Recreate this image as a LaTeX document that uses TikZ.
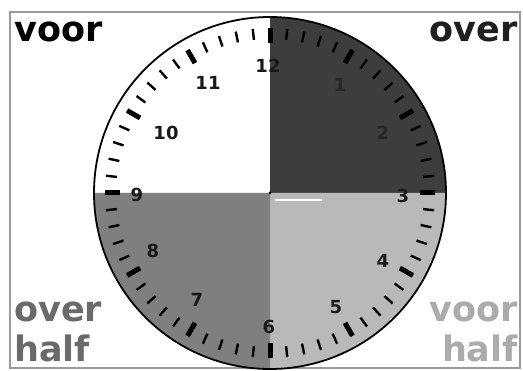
\documentclass[tikz,border=0pt]{standalone}
\usepackage{fontspec}
\setmainfont{DejaVu Sans}
\definecolor{qdark}{HTML}{3D3D3D}
\definecolor{qmid}{HTML}{7F7F7F}
\definecolor{qlight}{HTML}{B9B9B9}
\definecolor{framegray}{HTML}{9A9A9A}
\definecolor{lblmid}{HTML}{6A6A6A}
\definecolor{lbllight}{HTML}{ABABAB}
\tikzset{
  frameline/.style={draw=framegray,line width=2},
  minortick/.style={line width=2.4,black},
  hourtick/.style={line width=5,black},
  num/.style={font=\bfseries\fontsize{18}{18}\selectfont,inner sep=0pt,text=black!90},
  lbl/.style={font=\bfseries\fontsize{35}{35}\selectfont,inner sep=0pt},
}
\begin{document}
\begin{tikzpicture}[x=1pt,y=-1pt]
\useasboundingbox (0,0) rectangle (523,371);
\fill[white] (0,0) rectangle (523,371);
\draw[frameline] (10,12) rectangle (520,368);
\coordinate (c) at (270,193);
% quadrants
\fill[white]  (c) -- ++(180:176) arc[start angle=180,end angle=270,radius=176] -- cycle;
\fill[qdark]  (c) -- ++(270:176) arc[start angle=270,end angle=360,radius=176] -- cycle;
\fill[qlight] (c) -- ++(0:176) arc[start angle=0,end angle=90,radius=176] -- cycle;
\fill[qmid]   (c) -- ++(90:176) arc[start angle=90,end angle=180,radius=176] -- cycle;
% ticks
\begin{scope}[shift={(c)}]
  \foreach \i in {0,...,59}{
    \pgfmathsetmacro{\a}{6*\i-90}
    \pgfmathtruncatemacro{\m}{mod(\i,5)}
    \ifnum\m=0
      \draw[hourtick] (\a:150) -- (\a:165);
    \else
      \draw[minortick] (\a:154) -- (\a:165);
    \fi
  }
\end{scope}
\draw[line width=1.8] (c) circle[radius=176];
% centre details
\fill[white] (275,199) rectangle (322,201);
\fill[black] (c) circle[radius=1.5];
% numbers
\node[num] (n12) at (268,66) {12};
\node[num,text=black!85] (n1) at (340,85) {1};
\node[num,text=black!85] (n2) at (383,133) {2};
\node[num] (n3) at (403,196) {3};
\node[num] (n4) at (383,261) {4};
\node[num] (n5) at (336,307) {5};
\node[num] (n6) at (269,327) {6};
\node[num] (n7) at (197,300) {7};
\node[num] (n8) at (153,251) {8};
\node[num] (n9) at (137,195) {9};
\node[num] (n10) at (166,133) {10};
\node[num] (n11) at (208,83) {11};
% labels
\node[lbl,text=black,anchor=base west] (voorTL) at (14,42) {voor};
\node[lbl,text=black!88,anchor=base east] (overTR) at (518,42) {over};
\node[lbl,text=lblmid,anchor=base west] (overBL) at (14,322) {over};
\node[lbl,text=lblmid,anchor=base west] (halfBL) at (14,362) {half};
\node[lbl,text=lbllight,anchor=base east] (voorBR) at (518,322) {voor};
\node[lbl,text=lbllight,anchor=base east] (halfBR) at (518,362) {half};
\end{tikzpicture}
\end{document}
